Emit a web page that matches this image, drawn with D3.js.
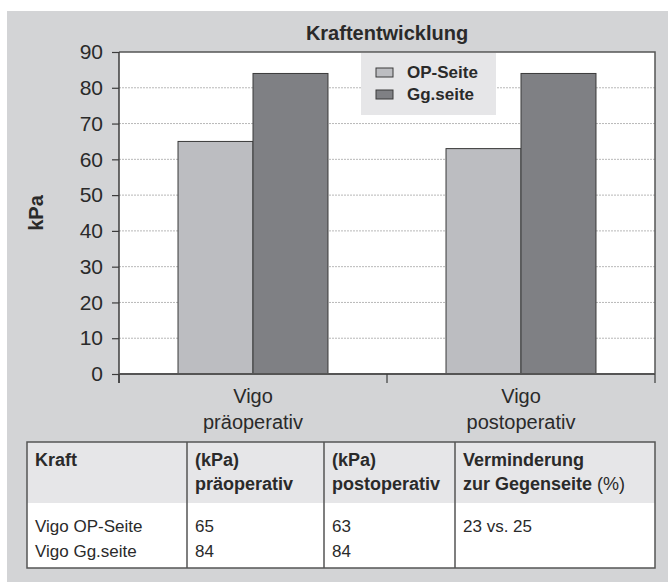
<!DOCTYPE html>
<html>
<head>
<meta charset="utf-8">
<script src="https://cdn.jsdelivr.net/npm/d3@7"></script>
<style>
  html, body { margin: 0; padding: 0; background: #ffffff; }
  svg { display: block; }
  text { font-family: "Liberation Sans", Arial, sans-serif; fill: #2a2a2a; }
</style>
</head>
<body>
<svg id="chart" width="668" height="582"></svg>
<script>
// ---- data ----
const title = "Kraftentwicklung";
const yLabel = "kPa";
const categories = ["Vigo\npräoperativ", "Vigo\npostoperativ"];
const seriesNames = ["OP-Seite", "Gg.seite"];
const opSeite = [65, 63];
const ggSeite = [84, 84];
const yTicks = [0, 10, 20, 30, 40, 50, 60, 70, 80, 90];
const tableHeader = [["Kraft"], ["(kPa)", "präoperativ"], ["(kPa)", "postoperativ"], ["Verminderung", "zur Gegenseite|(%)"]];
const tableRows = [["Vigo OP-Seite", "65", "63", "23 vs. 25"], ["Vigo Gg.seite", "84", "84", ""]];

// ---- styles ----
const panelColor = "#d3d4d6";
const lightColor = "#e6e6e8";
const seriesColors = ["#bcbdc1", "#7f8084"];
const lineColor = "#3c3c3c";

const svg = d3.select("#chart");
svg.append("rect").attr("x", 7).attr("y", 11).attr("width", 661).attr("height", 571).attr("fill", panelColor);

const plot = { left: 119, right: 655, top: 52, bottom: 374 };

const x = d3.scaleBand().domain(categories).range([plot.left, plot.right]).padding(0);
const xs = d3.scaleBand().domain(seriesNames).range([0, x.bandwidth()]).paddingInner(0).paddingOuter(0.787);
const y = d3.scaleLinear().domain([0, 90]).range([plot.bottom, plot.top]);

// plot background
svg.append("rect").attr("x", plot.left).attr("y", plot.top)
  .attr("width", plot.right - plot.left).attr("height", plot.bottom - plot.top).attr("fill", "#ffffff");

// gridlines
svg.append("g").selectAll("line").data(yTicks.filter(t => t > 0 && t < 90)).join("line")
  .attr("x1", plot.left).attr("x2", plot.right)
  .attr("y1", d => y(d)).attr("y2", d => y(d))
  .attr("stroke", "#b8b8b8").attr("stroke-width", 1).attr("stroke-dasharray", "2,1");

// bars
const data = categories.map((c, i) => ({ cat: c, values: [opSeite[i], ggSeite[i]] }));
const groups = svg.append("g").selectAll("g").data(data).join("g")
  .attr("transform", d => `translate(${x(d.cat)},0)`);
groups.selectAll("rect").data(d => d.values.map((v, j) => ({ s: seriesNames[j], v, j }))).join("rect")
  .attr("x", d => xs(d.s)).attr("width", xs.bandwidth())
  .attr("y", d => y(d.v)).attr("height", d => y(0) - y(d.v))
  .attr("fill", d => seriesColors[d.j]).attr("stroke", "#3a3a3a").attr("stroke-width", 1);

// plot frame (top, right)
svg.append("path")
  .attr("d", `M${plot.left},${plot.top}H${plot.right}V${plot.bottom}`)
  .attr("fill", "none").attr("stroke", "#555").attr("stroke-width", 1.5);

// y axis
const yAxis = d3.axisLeft(y).tickValues(yTicks).tickSize(7).tickPadding(9);
const ya = svg.append("g").attr("transform", `translate(${plot.left},0)`).call(yAxis);
ya.select(".domain").attr("stroke", lineColor).attr("stroke-width", 1.5).attr("d", `M0,${plot.top}V${plot.bottom + 9}`);
ya.selectAll(".tick line").attr("stroke", lineColor).attr("stroke-width", 1.2);
ya.selectAll(".tick text").attr("font-size", 21).attr("fill", "#2a2a2a")
  .style("font-family", '"Liberation Sans", Arial, sans-serif');

// x axis
const xa = svg.append("g").attr("transform", `translate(0,${plot.bottom})`);
xa.append("line").attr("x1", plot.left).attr("x2", plot.right).attr("y1", 0).attr("y2", 0)
  .attr("stroke", "#555").attr("stroke-width", 2);
const boundaries = [x(categories[0]), x(categories[1]), x(categories[1]) + x.bandwidth()];
xa.selectAll("line.tk").data(boundaries).join("line").attr("class", "tk")
  .attr("x1", d => d).attr("x2", d => d).attr("y1", 0).attr("y2", 9)
  .attr("stroke", lineColor).attr("stroke-width", 1.2);
xa.selectAll("text.cat").data(categories).join("text").attr("class", "cat")
  .attr("text-anchor", "middle").attr("font-size", 20)
  .attr("transform", d => `translate(${x(d) + x.bandwidth() / 2},0)`)
  .each(function (d) {
    const lines = d.split("\n");
    d3.select(this).selectAll("tspan").data(lines).join("tspan")
      .attr("x", 0).attr("y", (l, i) => 29 + i * 26).text(l => l);
  });

// title
svg.append("text").attr("x", 387).attr("y", 40).attr("text-anchor", "middle")
  .attr("font-size", 20).attr("font-weight", "bold").text(title);

// y label
svg.append("text").attr("transform", "translate(43,213) rotate(-90)").attr("text-anchor", "middle")
  .attr("font-size", 20).attr("font-weight", "bold").text(yLabel);

// legend
const lg = svg.append("g");
lg.append("rect").attr("x", 361).attr("y", 53).attr("width", 135).attr("height", 62).attr("fill", lightColor);
const li = lg.selectAll("g").data(seriesNames).join("g")
  .attr("transform", (d, i) => `translate(376,${68 + i * 22})`);
li.append("rect").attr("width", 17).attr("height", 9)
  .attr("fill", (d, i) => seriesColors[i]).attr("stroke", "#3a3a3a").attr("stroke-width", 1);
li.append("text").attr("x", 31).attr("y", 9.5).attr("font-size", 17).attr("font-weight", "bold").text(d => d);

// table
const tb = { left: 27, right: 655, top: 442, headBottom: 503, bottom: 568 };
const colX = [tb.left, 187, 324, 455, tb.right];
svg.append("rect").attr("x", tb.left).attr("y", tb.top).attr("width", tb.right - tb.left)
  .attr("height", tb.headBottom - tb.top).attr("fill", lightColor);
svg.append("rect").attr("x", tb.left).attr("y", tb.headBottom).attr("width", tb.right - tb.left)
  .attr("height", tb.bottom - tb.headBottom).attr("fill", "#ffffff");
svg.append("g").selectAll("line").data(colX.slice(1, 4)).join("line")
  .attr("x1", d => d).attr("x2", d => d).attr("y1", tb.top).attr("y2", tb.bottom)
  .attr("stroke", "#555").attr("stroke-width", 1.5);
svg.append("rect").attr("x", tb.left).attr("y", tb.top).attr("width", tb.right - tb.left)
  .attr("height", tb.bottom - tb.top).attr("fill", "none").attr("stroke", "#555").attr("stroke-width", 1.5);

tableHeader.forEach((lines, ci) => {
  lines.forEach((ln, li2) => {
    const t = svg.append("text").attr("x", colX[ci] + 8).attr("y", 466 + li2 * 24)
      .attr("font-size", 18).attr("font-weight", "bold");
    const parts = ln.split("|");
    t.append("tspan").text(parts[0]);
    if (parts[1]) t.append("tspan").attr("font-weight", "normal").text(" " + parts[1]);
  });
});
tableRows.forEach((row, ri) => {
  row.forEach((cell, ci) => {
    svg.append("text").attr("x", colX[ci] + 8).attr("y", 532 + ri * 25)
      .attr("font-size", 17).text(cell);
  });
});
</script>
</body>
</html>
